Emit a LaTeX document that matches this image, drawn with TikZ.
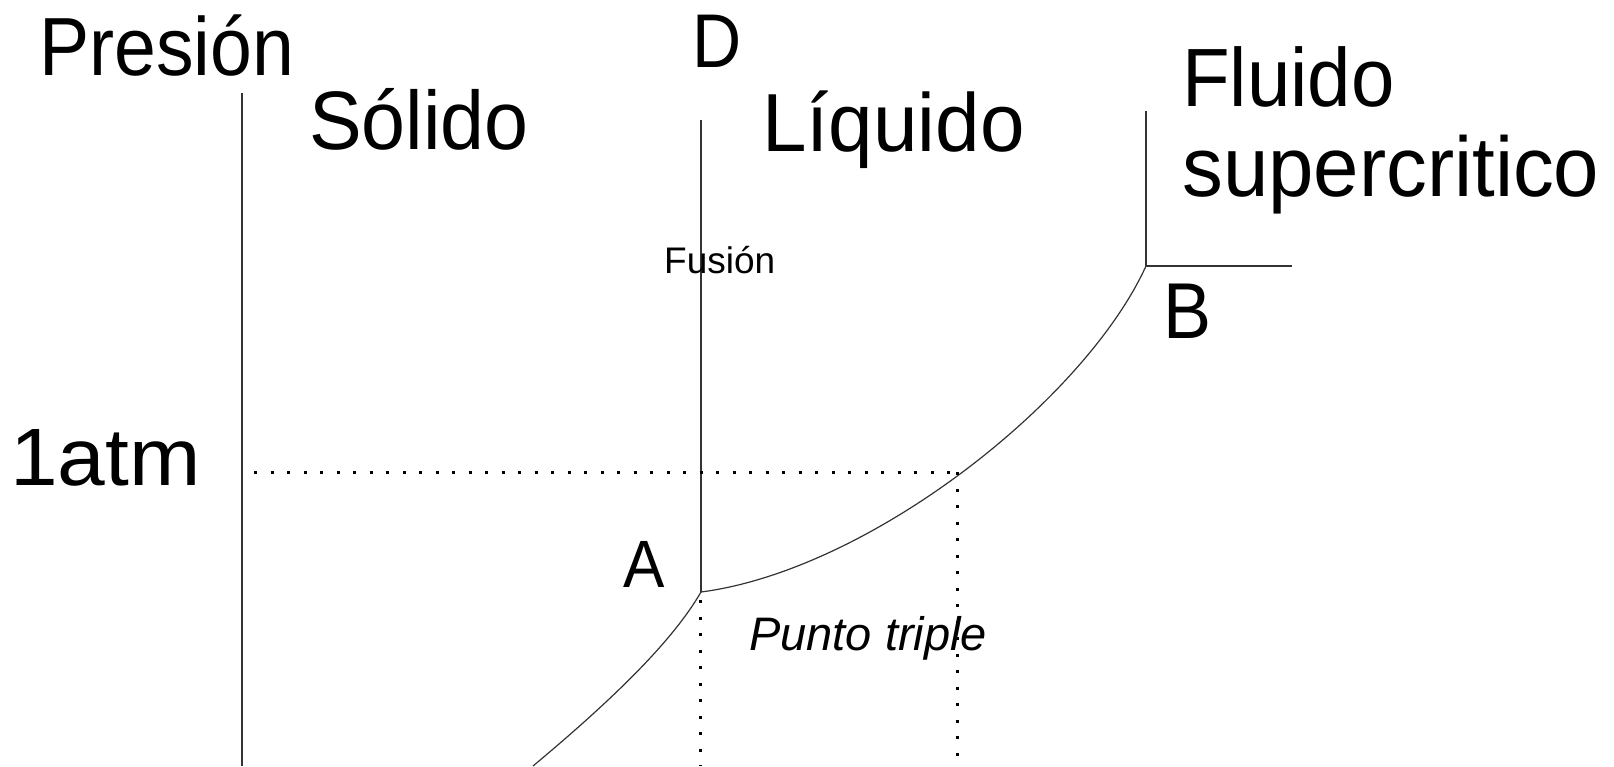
\documentclass[tikz,border=0pt]{standalone}
\usepackage{graphicx}
\usepackage{fontspec}
\setmainfont{Liberation Sans}
\newcommand\sxy[3]{\scalebox{#1}[#2]{#3}}
\begin{document}
\begin{tikzpicture}[x=1pt,y=-1pt,
  lbl/.style={anchor=base west,inner sep=0pt,font=\fontsize{#1}{#1}\selectfont},
  solidline/.style={line width=1.2pt,draw=black!80},
  dotline/.style={line width=3pt,dash pattern=on 3pt off 13.5pt,draw=black}]
\useasboundingbox (0,0) rectangle (1614,766);
% coordinates
\coordinate (axtop) at (242,93);
\coordinate (axbot) at (242,766);
\coordinate (Dtop) at (701,120);
\coordinate (A) at (701,592);
\coordinate (Ctop) at (1146,111);
\coordinate (B) at (1146,266);
\coordinate (Cright) at (1292,266);
\coordinate (atmL) at (254,472);
\coordinate (atmP) at (957,472);
\coordinate (atmB) at (957,766);
\coordinate (Abelow) at (700,600);
\coordinate (Abot) at (700,766);
\coordinate (subl) at (533,766);
% text
\node[lbl=73] (pres) at (39,75) {\sxy{1.03}{1.13}{Presión}};
\node[lbl=79] (sol) at (309,149) {\sxy{1}{1.05}{Sólido}};
\node[lbl=68] (dlab) at (692,67) {\sxy{1}{1.12}{D}};
\node[lbl=80] (liq) at (762,151) {\sxy{1}{1.03}{Líquido}};
\node[lbl=78] (flu) at (1182,106) {\sxy{1}{1.06}{Fluido}};
\node[lbl=80] (sup) at (1182,196) {\sxy{1.02}{1.06}{supercritico}};
\node[lbl=72] (blab) at (1163,338) {\sxy{1}{1.1}{B}};
\node[lbl=72] (atm) at (10,485) {\sxy{1.19}{1.13}{1atm}};
\node[lbl=62] (alab) at (623,587) {\sxy{1}{1.08}{A}};
\node[lbl=47,font=\fontsize{47}{47}\selectfont\itshape] (pt) at (749,650) {Punto triple};
% lines
\draw[solidline] (axtop) -- (axbot);
\draw[solidline] (Dtop) -- (A);
\draw[solidline] (Ctop) -- (B) -- (Cright);
\draw[solidline] (A) .. controls (870,570) and (1085,400) .. (B);
\draw[solidline] (subl) .. controls (612,700) and (672,642) .. (A);
\draw[dotline] (atmL) -- (atmP);
\draw[dotline] (atmP) -- (atmB);
\draw[dotline] (Abelow) -- (Abot);
\node[lbl=37] (fus) at (664,273) {Fusión};
\end{tikzpicture}
\end{document}
